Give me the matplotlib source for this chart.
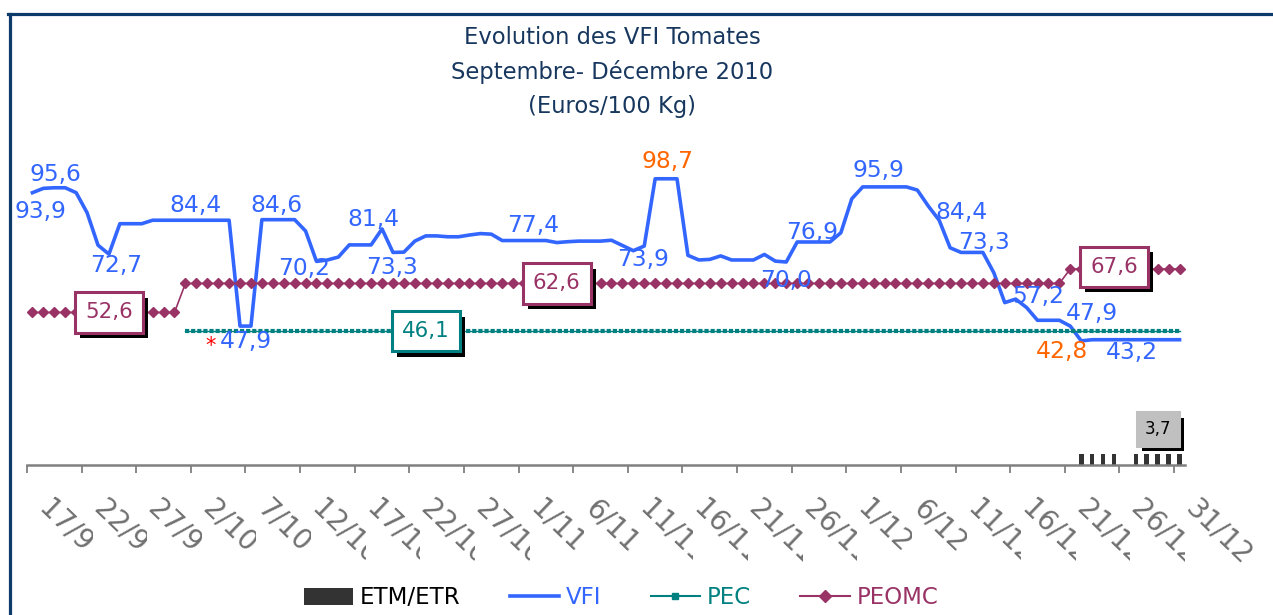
import numpy as np
import matplotlib
matplotlib.use('Agg')
import matplotlib.pyplot as plt
import matplotlib.patheffects as pe
from matplotlib.lines import Line2D
from matplotlib.patches import Rectangle
from matplotlib.transforms import Bbox, TransformedBbox, ScaledTranslation

plt.rcParams['font.family'] = ['DejaVu Sans']
plt.rcParams['lines.scale_dashes'] = False

NA = np.nan

# ---------------- data ----------------
tick_labels = ['17/9', '22/9', '27/9', '2/10', '7/10', '12/10', '17/10', '22/10',
               '27/10', '1/11', '6/11', '11/11', '16/11', '21/11', '26/11', '1/12',
               '6/12', '11/12', '16/12', '21/12', '26/12', '31/12']

# daily VFI values 17/9 .. 31/12 (106 days)
vfi = [93.9, 95.4, 95.6, 95.6, 93.9, 87.0, 75.8, 72.7, 83.2, 83.2,
       83.2, 84.4, 84.4, 84.4, 84.4, 84.4, 84.4, 84.4, 84.4, 47.9,
       47.9, 84.6, 84.6, 84.6, 84.6, 80.7, 70.2, 70.7, 71.7, 75.9,
       75.9, 75.9, 81.4, 73.3, 73.4, 77.2, 79.0, 79.0, 78.7, 78.7,
       79.3, 79.8, 79.6, 77.4, 77.4, 77.4, 77.4, 77.4, 76.7, 77.0,
       77.2, 77.2, 77.2, 77.5, 75.7, 73.9, 75.5, 98.7, 98.7, 98.7,
       72.3, 70.7, 70.9, 72.1, 70.7, 70.7, 70.7, 72.6, 70.3, 70.0,
       76.9, 76.9, 76.9, 76.9, 80.1, 91.8, 95.9, 95.9, 95.9, 95.9,
       95.9, 94.8, 89.3, 84.4, 74.9, 73.3, 73.3, 73.3, 66.3, 56.0,
       57.2, 54.3, 49.9, 49.9, 49.9, 47.9, 42.8, 43.2, 43.2, 43.2,
       43.2, 43.2, 43.2, 43.2, 43.2, 43.2]

pec = [NA, NA, NA, NA, NA, NA, NA, NA, NA, NA,
       NA, NA, NA, NA, 46.1, 46.1, 46.1, 46.1, 46.1, 46.1,
       46.1, 46.1, 46.1, 46.1, 46.1, 46.1, 46.1, 46.1, 46.1, 46.1,
       46.1, 46.1, 46.1, 46.1, 46.1, 46.1, 46.1, 46.1, 46.1, 46.1,
       46.1, 46.1, 46.1, 46.1, 46.1, 46.1, 46.1, 46.1, 46.1, 46.1,
       46.1, 46.1, 46.1, 46.1, 46.1, 46.1, 46.1, 46.1, 46.1, 46.1,
       46.1, 46.1, 46.1, 46.1, 46.1, 46.1, 46.1, 46.1, 46.1, 46.1,
       46.1, 46.1, 46.1, 46.1, 46.1, 46.1, 46.1, 46.1, 46.1, 46.1,
       46.1, 46.1, 46.1, 46.1, 46.1, 46.1, 46.1, 46.1, 46.1, 46.1,
       46.1, 46.1, 46.1, 46.1, 46.1, 46.1, 46.1, 46.1, 46.1, 46.1,
       46.1, 46.1, 46.1, 46.1, 46.1, 46.1]

peomc = [52.6, 52.6, 52.6, 52.6, 52.6, 52.6, 52.6, 52.6, 52.6, 52.6,
         52.6, 52.6, 52.6, 52.6, 62.6, 62.6, 62.6, 62.6, 62.6, 62.6,
         62.6, 62.6, 62.6, 62.6, 62.6, 62.6, 62.6, 62.6, 62.6, 62.6,
         62.6, 62.6, 62.6, 62.6, 62.6, 62.6, 62.6, 62.6, 62.6, 62.6,
         62.6, 62.6, 62.6, 62.6, 62.6, 62.6, 62.6, 62.6, 62.6, 62.6,
         62.6, 62.6, 62.6, 62.6, 62.6, 62.6, 62.6, 62.6, 62.6, 62.6,
         62.6, 62.6, 62.6, 62.6, 62.6, 62.6, 62.6, 62.6, 62.6, 62.6,
         62.6, 62.6, 62.6, 62.6, 62.6, 62.6, 62.6, 62.6, 62.6, 62.6,
         62.6, 62.6, 62.6, 62.6, 62.6, 62.6, 62.6, 62.6, 62.6, 62.6,
         62.6, 62.6, 62.6, 62.6, 62.6, 67.6, 67.6, 67.6, 67.6, 67.6,
         67.6, 67.6, 67.6, 67.6, 67.6, 67.6]

etm = [NA] * 96 + [3.7, 3.7, 3.7, 3.7, NA, 3.7, 3.7, 3.7, 3.7, 3.7]

# ---------------- layout / style ----------------
C_VFI = '#3366FF'
C_PEC = '#008080'
C_PEO = '#993366'
C_ORG = '#FF6600'
C_TITLE = '#17375E'
C_FRAME = '#0B3A6B'

W, H = 1273, 615
fig = plt.figure(figsize=(W / 100, H / 100), dpi=100)
ax = fig.add_axes([27 / W, 150 / H, 1158 / W, 348 / H])

x = np.arange(len(vfi))
ax.bar(x, etm, width=0.42, color='#333333', zorder=2)
ax.plot(x, vfi, color=C_VFI, lw=2.6, zorder=3, solid_joinstyle='round')
ax.plot(x, pec, color=C_PEC, lw=1.0, zorder=4)
ax.plot(x, pec, color=C_PEC, lw=3.0, dashes=(3.0, 1.4), solid_capstyle='butt',
        dash_capstyle='butt', zorder=4)
ax.plot(x, peomc, color=C_PEO, lw=1.2, marker='D', ms=5.3, zorder=5)

ax.set_xlim(-0.5, len(vfi) - 0.5)
ax.set_ylim(0, 120)
for s in ['top', 'right', 'left']:
    ax.spines[s].set_visible(False)
ax.spines['bottom'].set_color('#808080')
ax.spines['bottom'].set_linewidth(1.8)
ax.set_yticks([])
tick_pos = np.arange(0, len(vfi), 5) - 0.5
ax.set_xticks(tick_pos)
ax.set_xticklabels([])
ax.tick_params(axis='x', length=6, width=1.3, color='#808080', direction='out')

# rotated, clipped tick labels (as in the original)
xtr = ax.get_xaxis_transform()
lab_tr = xtr + ScaledTranslation(26 / 100, -29 / 100, fig.dpi_scale_trans)
for k, (tp, lab) in enumerate(zip(tick_pos, tick_labels)):
    t = ax.text(tp, 0, lab, transform=lab_tr, ha='left', va='top', rotation=-44,
                rotation_mode='anchor', fontsize=20, color='#707070')
    if k < len(tick_labels) - 1:
        t.set_clip_box(TransformedBbox(Bbox([[tp - 3, -2], [tp + 6, 0]]), xtr))
        t.set_clip_on(True)
    else:
        t.set_clip_on(False)


def fmt(v):
    return ('%.1f' % v).replace('.', ',')


# VFI data labels: (index, dx px, dy px (down +), colour)
vfi_labels = [(0, 8, 19, C_VFI), (2, 1, -13, C_VFI), (7, 7, 11, C_VFI),
              (15, -1, -15, C_VFI), (20, -5, 15, C_VFI), (22, 4, -14, C_VFI),
              (26, -12, 7, C_VFI), (32, -9, -9, C_VFI), (33, -1, 15, C_VFI),
              (46, -2, -15, C_VFI), (55, 10, 9, C_VFI), (58, 1, -17, C_ORG),
              (69, 0, 19, C_VFI), (71, 4, -9, C_VFI), (77, 5, -16, C_VFI),
              (83, 22, -8, C_VFI), (87, 1, -10, C_VFI), (90, 23, -3, C_VFI),
              (95, 22, -13, C_VFI), (96, -19, 11, C_ORG), (101, -4, 13, C_VFI)]
for i, dx, dy, c in vfi_labels:
    ax.annotate(fmt(vfi[i]), (x[i], vfi[i]), xytext=(dx, -dy), textcoords='offset pixels',
                ha='center', va='center', fontsize=16.8, color=c, zorder=8)

# red asterisk near the 47,9 dip
ax.annotate('*', (x[19], vfi[19]), xytext=(-29, -20), textcoords='offset pixels',
            ha='center', va='center', fontsize=15, color='#FF0000', zorder=8)


def boxed(i, v, txt, ec, tc, fc, fs, dy=0):
    t = ax.annotate(txt, (x[i], v), xytext=(0, -dy), textcoords='offset pixels',
                    ha='center', va='center', fontsize=fs, color=tc, zorder=10,
                    bbox=dict(boxstyle='square,pad=0.47', fc=fc, ec=ec, lw=2.2))
    t.get_bbox_patch().set_path_effects([
        pe.SimplePatchShadow(offset=(3.8, -3.8), shadow_rgbFace='black', alpha=1.0),
        pe.Normal()])


for i in [7, 48, 99]:
    boxed(i, peomc[i], fmt(peomc[i]), C_PEO, C_PEO, 'white', 15.4, dy=-2 if i == 99 else 0)
boxed(36, pec[36], fmt(pec[36]), C_PEC, C_PEC, 'white', 15.4)
boxed(103, etm[103], fmt(etm[103]), '#C0C0C0', 'black', '#C0C0C0', 12, dy=-25)

# title
fig.text(612 / W, 1 - 38 / H, 'Evolution des VFI Tomates', ha='center', va='center',
         fontsize=16.3, color=C_TITLE)
fig.text(612 / W, 1 - 72 / H, 'Septembre- Décembre 2010', ha='center', va='center',
         fontsize=16.3, color=C_TITLE)
fig.text(612 / W, 1 - 106 / H, '(Euros/100 Kg)', ha='center', va='center',
         fontsize=16.3, color=C_TITLE)

# legend
handles = [Rectangle((0, 0), 1, 1, fc='#333333', ec='none'),
           Line2D([], [], color=C_VFI, lw=2.6),
           Line2D([], [], color=C_PEC, lw=1.5, marker='s', ms=4),
           Line2D([], [], color=C_PEO, lw=1.5, marker='D', ms=6)]
fig.legend(handles, ['ETM/ETR', 'VFI', 'PEC', 'PEOMC'], loc='center',
           bbox_to_anchor=(621 / W, 1 - 598 / H), ncol=4, frameon=False,
           fontsize=16.5, handlelength=2.15, handletextpad=0.3, columnspacing=2.15,
           labelcolor=['black', C_VFI, C_PEC, C_PEO], numpoints=1)

# frame (left and top edges)
fig.add_artist(Line2D([9.5 / W, 9.5 / W], [0, 1 - 13.5 / H], transform=fig.transFigure,
                      color=C_FRAME, lw=2.3))
fig.add_artist(Line2D([8 / W, 1], [1 - 13.5 / H, 1 - 13.5 / H], transform=fig.transFigure,
                      color=C_FRAME, lw=2.3))

fig.savefig('out.png', dpi=100)
